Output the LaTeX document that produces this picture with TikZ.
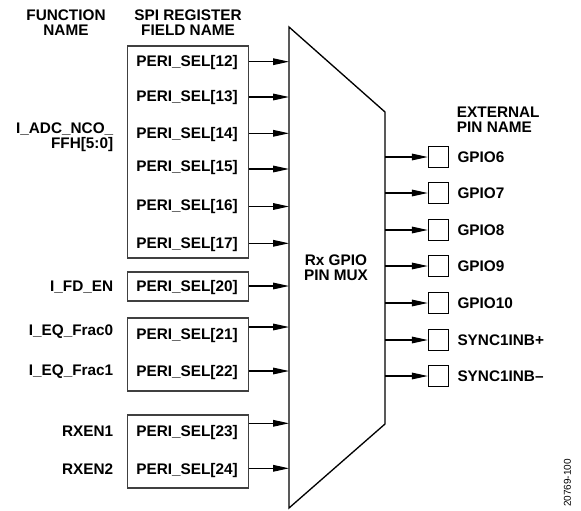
\documentclass[tikz,border=0pt]{standalone}
\usepackage{fontspec}
\setmainfont{Liberation Sans}
\usepackage{tikz}
\usetikzlibrary{positioning, arrows.meta, fit}
\definecolor{boxGray}{HTML}{404040}

\begin{document}
\begin{tikzpicture}[
  x=0.75pt, y=-0.75pt,
  font=\fontsize{11.5}{11.3}\selectfont\bfseries,
  hdr/.style={align=center, inner sep=0pt},
  fld/.style={inner sep=0pt, text height=8.2pt, text depth=0pt},
  fn/.style={fld, anchor=east},
  grp/.style={draw=boxGray, line width=0.8pt, inner sep=0pt},
  pin/.style={draw, line width=0.8pt, minimum width=15pt, minimum height=15.5pt, inner sep=0pt},
  sig/.style={-{Triangle[length=12pt, width=5pt]}, line width=0.8pt},
  muxline/.style={line width=1pt, line join=miter}
]
\useasboundingbox (0,0) rectangle (581,510);

% ---------- HEADERS ----------
\node[hdr] (hfn) at (66,22.5) {FUNCTION\\NAME};
\node[hdr] (hspi) at (188,22.5) {SPI REGISTER\\FIELD NAME};
\node[hdr, align=left, anchor=west] (hpin) at (456.7,119.5) {EXTERNAL\\PIN NAME};

% ---------- MUX ----------
\coordinate (muxTL) at (289,27);
\coordinate (muxTR) at (385,112);
\coordinate (muxBR) at (385,424);
\coordinate (muxBL) at (289,508);
\draw[muxline] (muxTL) -- (muxTR) -- (muxBR) -- (muxBL) -- cycle;
\node[hdr] (muxlbl) at (336,267.5) {Rx GPIO\\PIN MUX};

% mux inputs
\foreach \n/\y in {12/61.7, 13/97, 14/133.3, 15/169, 16/206.5, 17/243.3, 20/286, 21/327, 22/371, 23/423.3, 24/468.3}
  \coordinate (in\n) at (289,\y);

% ---------- SPI REGISTER FIELDS ----------
\foreach \n/\y in {12/61.3, 13/96.2, 14/133.3, 15/165.8, 16/205.5, 17/243.3, 20/285.8, 21/333.8, 22/370.8, 23/430.8, 24/469.2}
  \node[fld] (f\n) at (187,\y) {PERI\_SEL[\n]};

\node[grp, fit={(127.5,46)(248.3,258)}] (g1) {};
\node[grp, fit={(127.5,272)(248.3,301)}] (g2) {};
\node[grp, fit={(127.5,318)(248.3,391)}] (g3) {};
\node[grp, fit={(127.5,415)(248.3,488)}] (g4) {};

\foreach \n in {12,...,17}
  \draw[sig] (g1.east |- in\n) -- (in\n);
\draw[sig] (g2.east |- in20) -- (in20);
\foreach \n in {21,22}
  \draw[sig] (g3.east |- in\n) -- (in\n);
\foreach \n in {23,24}
  \draw[sig] (g4.east |- in\n) -- (in\n);

% ---------- FUNCTION NAMES ----------
\node[hdr, align=right, anchor=east] (adc) at (113.5,137.5) {I\_ADC\_NCO\_\\FFH[5:0]};
\node[fn] (fden) at (113.5,285.8) {I\_FD\_EN};
\node[fn] (eq0) at (113.5,330.5) {I\_EQ\_Frac0};
\node[fn] (eq1) at (113.5,369.7) {I\_EQ\_Frac1};
\node[fn] (rx1) at (113.5,430.8) {RXEN1};
\node[fn] (rx2) at (113.5,469.2) {RXEN2};

% ---------- EXTERNAL PINS ----------
\foreach \n/\lbl/\y in {6/GPIO6/157, 7/GPIO7/193, 8/GPIO8/230, 9/GPIO9/266, 10/GPIO10/303, 11/SYNC1INB+/340, 12/SYNC1INB–/376} {
  \node[pin] (p\n) at (438.3,\y) {};
  \node[fld, right=6.3pt of p\n] (l\n) {\lbl};
  \draw[sig] (muxBR |- p\n) -- (p\n.west);
}

\node[font=\fontsize{7.5}{8}\selectfont, rotate=90] (figid) at (567.5,483) {20769-100};

\end{tikzpicture}
\end{document}
